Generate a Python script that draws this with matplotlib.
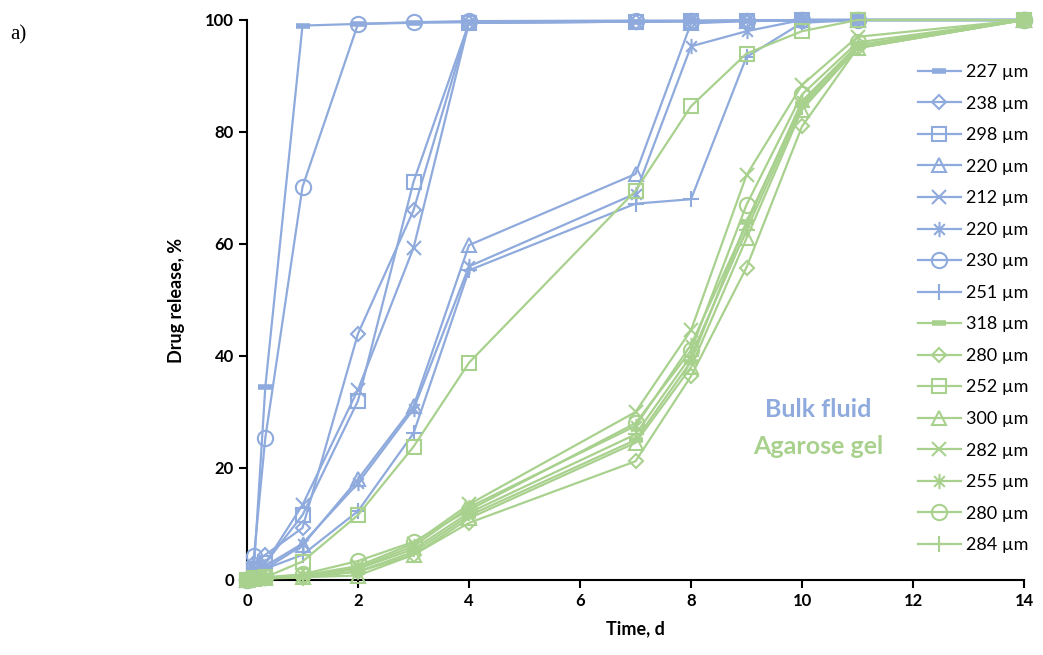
import numpy as np
import matplotlib
matplotlib.use("Agg")
import matplotlib.pyplot as plt
from matplotlib.path import Path

plt.rcParams['font.family'] = ['Lato', 'DejaVu Sans']

# time points, d
t = [0, 0.125, 0.33, 1, 2, 3, 4, 7, 8, 9, 10, 11, 14]

# bulk fluid series
bulk_labels = ['227 µm', '238 µm', '298 µm', '220 µm', '212 µm', '220 µm', '230 µm', '251 µm']
bulk_227 = [0, 2.0, 34.5, 99.0, 99.3, 99.5, 99.6, 99.7, 99.8, 99.8, 99.9, 100, 100]
bulk_238 = [0, 3.0, 4.5, 9.3, 44.0, 66.0, 99.5, 99.7, 99.8, 99.9, 100, 100, 100]
bulk_298 = [0, 2.0, 3.0, 11.6, 32.0, 71.1, 99.5, 99.7, 99.8, 99.9, 100, 100, 100]
bulk_220a = [0, 1.0, 2.0, 6.2, 18.0, 31.0, 59.8, 72.5, 99.4, 99.8, 100, 100, 100]
bulk_212 = [0, 2.0, 3.0, 13.4, 34.0, 59.3, 99.5, 99.7, 99.8, 99.9, 100, 100, 100]
bulk_220b = [0, 1.5, 2.5, 6.5, 17.3, 30.5, 56.0, 69.0, 95.3, 98.0, 100, 100, 100]
bulk_230 = [0, 4.2, 25.4, 70.2, 99.3, 99.6, 99.8, 99.9, 99.9, 99.9, 100, 100, 100]
bulk_251 = [0, 1.0, 2.0, 4.5, 12.3, 26.2, 55.3, 67.2, 68.0, 93.4, 99.5, 100, 100]

# agarose gel series
gel_labels = ['318 µm', '280 µm', '252 µm', '300 µm', '282 µm', '255 µm', '280 µm', '284 µm']
gel_318 = [0, 0.2, 0.4, 0.6, 1.5, 5.0, 11.5, 25.0, 39.0, 64.0, 85.0, 95.5, 100]
gel_280a = [0, 0.1, 0.3, 0.4, 1.5, 4.5, 10.2, 21.2, 36.4, 55.8, 81.0, 95.0, 100]
gel_252 = [0, 0.3, 0.5, 3.3, 11.6, 23.8, 38.8, 69.5, 84.6, 94.0, 98.0, 100, 100]
gel_300 = [0, 0.2, 0.3, 0.5, 0.8, 4.5, 11.0, 24.5, 38.0, 61.0, 84.0, 95.0, 100]
gel_282 = [0, 0.2, 0.4, 0.8, 2.5, 6.5, 13.5, 30.0, 44.6, 72.3, 88.4, 97.0, 100]
gel_255 = [0, 0.2, 0.4, 0.7, 2.2, 6.0, 13.0, 27.5, 42.0, 63.5, 85.5, 95.5, 100]
gel_280b = [0, 0.3, 0.5, 1.0, 3.4, 6.8, 12.5, 28.0, 41.0, 67.0, 86.7, 96.0, 100]
gel_284 = [0, 0.2, 0.3, 0.6, 2.0, 5.5, 12.0, 26.0, 40.0, 62.5, 84.5, 95.0, 100]

bulk_series = [bulk_227, bulk_238, bulk_298, bulk_220a, bulk_212, bulk_220b, bulk_230, bulk_251]
gel_series = [gel_318, gel_280a, gel_252, gel_300, gel_282, gel_255, gel_280b, gel_284]

blue = '#8FAADC'
green = '#A9D18E'

# asterisk like the Excel one: vertical bar plus an x
ast = Path([(0, -1), (0, 1), (-0.7, -0.7), (0.7, 0.7), (-0.7, 0.7), (0.7, -0.7)],
           [Path.MOVETO, Path.LINETO, Path.MOVETO, Path.LINETO, Path.MOVETO, Path.LINETO])
markers = ['_', 'D', 's', '^', 'x', ast, 'o', '+']
msizes = [10, 7.5, 10, 10, 10, 11, 11, 12]

fig = plt.figure(figsize=(10.43, 6.55), dpi=100)
ax = fig.add_axes([247 / 1043, 75 / 655, (1024 - 247) / 1043, (580 - 20) / 655])

handles = []
for series, labels, col in [(bulk_series, bulk_labels, blue), (gel_series, gel_labels, green)]:
    for i, (y, lab) in enumerate(zip(series, labels)):
        mew = 4 if markers[i] == '_' else 1.5
        h, = ax.plot(t, y, color=col, lw=1.6, marker=markers[i], ms=msizes[i],
                     mfc='none' if markers[i] != '_' else col, mec=col, mew=mew,
                     label=lab, clip_on=False, zorder=3)
        handles.append(h)

ax.set_xlim(0, 14)
ax.set_ylim(0, 100)
ax.set_xticks(np.arange(0, 15, 2))
ax.set_yticks(np.arange(0, 101, 20))
for s in ['top', 'right']:
    ax.spines[s].set_visible(False)
for s in ['left', 'bottom']:
    ax.spines[s].set_linewidth(1.5)
ax.tick_params(direction='out', length=6, width=1.5, labelsize=12)
for lbl in ax.get_xticklabels() + ax.get_yticklabels():
    lbl.set_fontweight('bold')

ax.set_xlabel('Time, d', fontsize=13, fontweight='bold', labelpad=8)
ax.set_ylabel('Drug release, %', fontsize=13, fontweight='bold', labelpad=14)

ax.text(10.3, 30.4, 'Bulk fluid', color=blue, fontsize=18, fontweight='bold',
        ha='center', va='center')
ax.text(10.3, 23.9, 'Agarose gel', color=green, fontsize=18, fontweight='bold',
        ha='center', va='center')

fig.text(10 / 1043, 1 - 35 / 655, 'a)', fontsize=15, family='Liberation Serif',
         va='center', ha='left')

fig.legend(handles=handles, loc='upper right', bbox_to_anchor=(1036 / 1043, 1 - 57 / 655),
           frameon=False, fontsize=13, labelspacing=0.86, handlelength=2.4,
           handletextpad=0.3, borderaxespad=0)

fig.savefig('out.png', dpi=100)
